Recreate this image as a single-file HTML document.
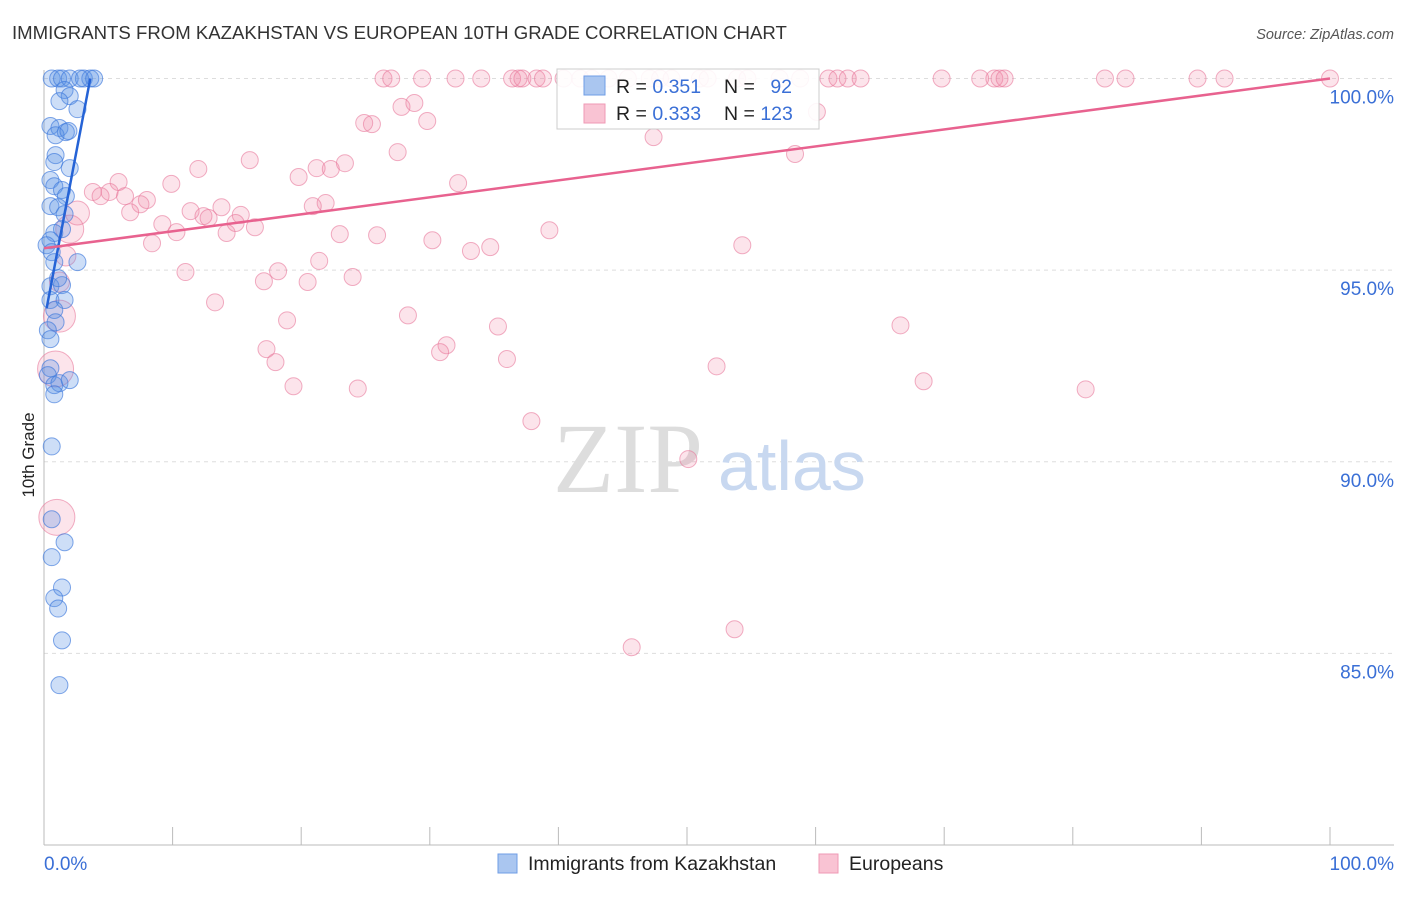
<!DOCTYPE html>
<html><head><meta charset="utf-8"><style>
body{margin:0;background:#fff;font-family:"Liberation Sans",sans-serif;}
svg text{font-family:"Liberation Sans",sans-serif;}
</style></head><body>
<svg id="chart" width="1406" height="892" xmlns="http://www.w3.org/2000/svg">
<text x="12" y="39" font-size="18.6" fill="#333">IMMIGRANTS FROM KAZAKHSTAN VS EUROPEAN 10TH GRADE CORRELATION CHART</text>
<text x="1394" y="39" font-size="14.5" fill="#555" text-anchor="end" font-style="italic">Source: ZipAtlas.com</text>
<text x="0" y="0" font-size="17" fill="#222" transform="translate(34,455) rotate(-90)" text-anchor="middle">10th Grade</text>
<g id="grid"></g>
<g id="axes"></g>
<text x="553" y="492" font-size="100" fill="#ddd" style="font-family:'Liberation Serif',serif">ZIP</text>
<text x="718" y="490" font-size="70" fill="#c8d8f0">atlas</text>
<g id="pink"></g>
<g id="blue"></g>
<g id="lines"></g>
<g>
<rect x="557" y="69" width="262" height="60" fill="#fff" fill-opacity="0.9" stroke="#ccc"/>
<rect x="584" y="76" width="21" height="19" fill="#aac6f0" stroke="#6f9de6"/>
<rect x="584" y="104" width="21" height="19" fill="#f9c3d3" stroke="#ef9ab5"/>
<text x="616" y="93" font-size="19.5" fill="#222">R = <tspan fill="#3a6fd6">0.351</tspan></text>
<text x="724" y="93" font-size="19.5" fill="#222">N = <tspan fill="#3a6fd6" dx="10">92</tspan></text>
<text x="616" y="120" font-size="19.5" fill="#222">R = <tspan fill="#3a6fd6">0.333</tspan></text>
<text x="724" y="120" font-size="19.5" fill="#222">N = <tspan fill="#3a6fd6">123</tspan></text>
</g>
<g>
<rect x="498" y="854" width="19" height="19" fill="#aac6f0" stroke="#6f9de6"/>
<text x="528" y="870" font-size="19.5" fill="#222">Immigrants from Kazakhstan</text>
<rect x="819" y="854" width="19" height="19" fill="#f9c3d3" stroke="#ef9ab5"/>
<text x="849" y="870" font-size="19.5" fill="#222">Europeans</text>
</g>
</svg>
<script>
const yTicks=[100,95,90,85];
const yTickLabels=["100.0%","95.0%","90.0%","85.0%"];
const xTickValues=[0,10,20,30,40,50,60,70,80,90,100];
const blueX=[0.6,1.1,1.4,2.0,3.1,3.6,2.8,3.9,1.6,2.0,1.2,2.6,0.5,1.2,1.7,0.9,1.9,0.9,0.8,2.0,0.5,0.8,1.4,1.7,0.5,1.1,1.6,1.4,0.8,0.5,0.2,0.6,2.6,0.8,0.5,1.4,1.1,0.5,1.6,0.8,0.9,0.3,0.5,0.5,0.3,0.8,1.2,2.0,0.8,0.6,0.6,1.6,0.6,1.4,0.8,1.1,1.4,1.2];
const blueY=[100,100,100,100,100,100,100,100,99.70,99.54,99.41,99.20,98.76,98.71,98.60,98.52,98.63,98.00,97.82,97.66,97.35,97.19,97.09,96.93,96.67,96.64,96.46,96.07,95.97,95.78,95.65,95.47,95.21,95.21,94.58,94.61,94.79,94.22,94.22,93.96,93.64,93.43,93.20,92.44,92.26,92.00,92.05,92.13,91.76,90.40,88.50,87.90,87.51,86.72,86.44,86.17,85.34,84.17];
const pinkX=[26.4,27.0,29.4,32.0,34.0,36.4,36.9,37.2,38.3,38.8,40.4,41.7,42.6,43.9,45.4,47.1,47.9,48.8,51.0,51.6,53.9,54.7,57.2,58.8,61.0,61.7,62.5,63.5,69.8,72.8,73.9,74.3,74.7,82.5,84.1,89.7,91.8,100,
27.8,28.8,25.5,24.9,29.8,27.5,47.4,60.1,58.4,16.0,12.0,9.9,5.8,3.8,4.4,5.1,6.3,8.0,7.5,6.7,13.8,11.4,12.4,12.8,15.3,14.9,14.2,16.4,9.2,10.3,8.4,19.8,21.2,23.4,22.3,32.2,21.9,20.9,23.0,25.9,30.2,34.7,33.2,39.3,54.3,21.4,18.2,17.1,20.5,24.0,11.0,13.3,18.9,28.3,35.3,66.6,31.3,30.8,17.3,18.0,36.0,52.3,19.4,24.4,68.4,81.0,37.9,50.1,45.7,53.7,1.0,0.9,1.2,2.0,2.6,1.7,1.2];
const pinkY=[100,100,100,100,100,100,100,100,100,100,100,100,100,100,100,100,100,100,100,100,100,100,100,100,100,100,100,100,100,100,100,100,100,100,100,100,100,100,
99.26,99.36,98.81,98.84,98.89,98.08,98.47,99.13,98.03,97.87,97.64,97.25,97.30,97.04,96.93,97.04,96.93,96.83,96.72,96.51,96.64,96.54,96.41,96.36,96.44,96.23,95.97,96.12,96.20,95.99,95.70,97.43,97.66,97.79,97.64,97.27,96.75,96.67,95.94,95.91,95.78,95.60,95.50,96.04,95.65,95.24,94.97,94.71,94.69,94.82,94.95,94.16,93.69,93.82,93.53,93.56,93.04,92.86,92.94,92.60,92.68,92.49,91.97,91.91,92.10,91.89,91.06,90.07,85.16,85.63,88.55,92.42,93.80,96.07,96.49,95.37,94.69];
const pinkBig=[18,18,16,14,12,10,10];
const blueLine=[[0.2,94.0],[3.6,100]];
const pinkLine=[[0,95.57],[100,100]];

const NS="http://www.w3.org/2000/svg";
const X0=44,X1=1330,YT=78.5,YB=845,YMIN=80,YMAX=100;
const sx=v=>X0+(v/100)*(X1-X0);
const sy=v=>YB-(v-YMIN)/(YMAX-YMIN)*(YB-YT);
function mk(tag,attrs,parent){const e=document.createElementNS(NS,tag);for(const k in attrs)e.setAttribute(k,attrs[k]);parent.appendChild(e);return e;}
const grid=document.getElementById('grid'),axes=document.getElementById('axes');
yTicks.forEach((t,i)=>{
  const l=mk('line',{x1:X0,x2:1394,y1:sy(t),y2:sy(t),stroke:'#ddd','stroke-dasharray':'4,4'},grid);
  
  
  const tx=mk('text',{x:1394,y:sy(t)+25,'font-size':19,fill:'#3a6fd6','text-anchor':'end'},axes);
  tx.textContent=yTickLabels[i];
  
  
});
const ax=mk('line',{x1:X0,x2:1394,y1:YB,y2:YB,stroke:'#bbb'},axes);


const ay=mk('line',{x1:X0,x2:X0,y1:70,y2:YB,stroke:'#bbb'},axes);


xTickValues.forEach(v=>{
  const t=mk('line',{x1:sx(v),x2:sx(v),y1:YB-18,y2:YB,stroke:'#bbb'},axes);
  
  
});
const xl0=mk('text',{x:44,y:870,'font-size':19,fill:'#3a6fd6'},axes);xl0.textContent='0.0%';


const xl1=mk('text',{x:1394,y:870,'font-size':19,fill:'#3a6fd6','text-anchor':'end'},axes);xl1.textContent='100.0%';


const pg=document.getElementById('pink');
const nBig=pinkBig.length;
pinkX.forEach((x,i)=>{
  const bi=i-(pinkX.length-nBig);
  const r=bi>=0?pinkBig[bi]:8.5;
  const c=mk('circle',{cx:sx(x),cy:sy(pinkY[i]),r:r,fill:'rgba(240,130,165,0.22)',stroke:'rgba(232,120,155,0.6)','stroke-width':1},pg);
  
  
});
const bg=document.getElementById('blue');
blueX.forEach((x,i)=>{
  const c=mk('circle',{cx:sx(x),cy:sy(blueY[i]),r:8.5,fill:'rgba(90,145,230,0.3)',stroke:'rgba(60,120,220,0.65)','stroke-width':1},bg);
  
  
});
const lg=document.getElementById('lines');
const bl=mk('line',{x1:sx(blueLine[0][0]),y1:sy(blueLine[0][1]),x2:sx(blueLine[1][0]),y2:sy(blueLine[1][1]),stroke:'#2563d6','stroke-width':2.5},lg);


const pl=mk('line',{x1:sx(pinkLine[0][0]),y1:sy(pinkLine[0][1]),x2:sx(pinkLine[1][0]),y2:sy(pinkLine[1][1]),stroke:'#e8628f','stroke-width':2.5},lg);


</script>
</body></html>
